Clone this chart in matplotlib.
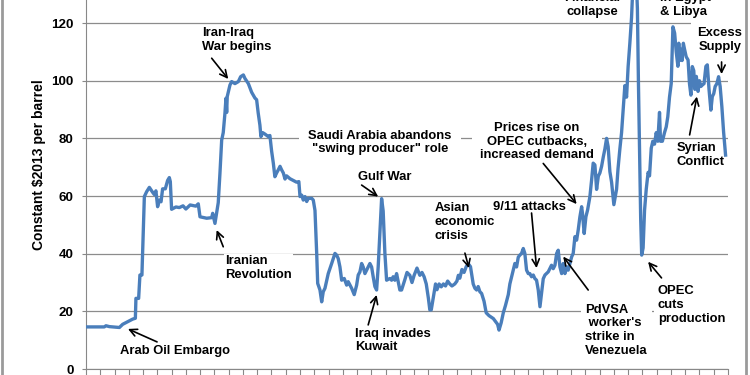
import matplotlib
matplotlib.use('Agg')
import matplotlib.pyplot as plt
from matplotlib.lines import Line2D

# Crude oil price, constant 2013 dollars per barrel
years = [
    1970.00, 1970.50, 1971.28, 1971.40, 1971.64, 1972.34, 1972.57, 1972.92, 1973.27, 1973.46,
    1973.50, 1973.69, 1973.78, 1973.92, 1974.09, 1974.25, 1974.44, 1974.67, 1974.79, 1974.90,
    1975.02, 1975.14, 1975.26, 1975.37, 1975.56, 1975.72, 1975.84, 1975.91, 1976.00, 1976.30,
    1976.54, 1976.80, 1977.00, 1977.30, 1977.70, 1977.87, 1977.99, 1978.46, 1978.81, 1978.88,
    1979.04, 1979.27, 1979.39, 1979.51, 1979.62, 1979.74, 1979.81, 1979.86, 1979.90, 1980.09,
    1980.21, 1980.44, 1980.68, 1980.84, 1981.03, 1981.14, 1981.38, 1981.61, 1981.84, 1981.96,
    1982.07, 1982.19, 1982.26, 1982.38, 1982.54, 1982.78, 1982.89, 1983.01, 1983.13, 1983.24,
    1983.36, 1983.48, 1983.60, 1983.71, 1983.83, 1983.95, 1984.06, 1984.30, 1984.53, 1984.76,
    1984.92, 1985.00, 1985.12, 1985.23, 1985.35, 1985.47, 1985.58, 1985.82, 1985.93, 1986.05,
    1986.17, 1986.24, 1986.40, 1986.52, 1986.63, 1986.75, 1986.98, 1987.22, 1987.45, 1987.57,
    1987.68, 1987.80, 1987.92, 1988.10, 1988.27, 1988.38, 1988.62, 1988.80, 1988.97, 1989.08,
    1989.20, 1989.32, 1989.43, 1989.55, 1989.67, 1989.78, 1989.90, 1990.02, 1990.13, 1990.25,
    1990.37, 1990.48, 1990.60, 1990.72, 1990.83, 1990.95, 1991.07, 1991.30, 1991.42, 1991.53,
    1991.65, 1991.77, 1992.00, 1992.12, 1992.35, 1992.50, 1992.70, 1992.85, 1993.00, 1993.20,
    1993.40, 1993.55, 1993.70, 1993.85, 1994.00, 1994.10, 1994.20, 1994.35, 1994.50, 1994.60,
    1994.75, 1994.90, 1995.05, 1995.20, 1995.35, 1995.50, 1995.65, 1995.85, 1996.00, 1996.10,
    1996.20, 1996.35, 1996.50, 1996.65, 1996.80, 1996.95, 1997.14, 1997.26, 1997.38, 1997.49,
    1997.61, 1997.73, 1997.90, 1998.05, 1998.25, 1998.40, 1998.55, 1998.70, 1998.85, 1998.95,
    1999.10, 1999.25, 1999.40, 1999.60, 1999.71, 1999.83, 1999.94, 2000.06, 2000.18, 2000.30,
    2000.41, 2000.53, 2000.65, 2000.76, 2000.88, 2001.00, 2001.11, 2001.23, 2001.35, 2001.46,
    2001.58, 2001.70, 2001.82, 2001.93, 2002.05, 2002.17, 2002.40, 2002.63, 2002.75, 2002.87,
    2002.99, 2003.10, 2003.22, 2003.34, 2003.45, 2003.57, 2003.69, 2003.80, 2003.92, 2004.04,
    2004.15, 2004.27, 2004.39, 2004.50, 2004.62, 2004.74, 2004.80, 2004.92, 2005.04, 2005.16,
    2005.32, 2005.44, 2005.55, 2005.67, 2005.79, 2005.91, 2006.02, 2006.14, 2006.26, 2006.37,
    2006.49, 2006.60, 2006.72, 2006.84, 2007.00, 2007.19, 2007.29, 2007.42, 2007.54, 2007.65,
    2007.77, 2007.89, 2008.00, 2008.12, 2008.24, 2008.35, 2008.45, 2008.55, 2008.65, 2008.72,
    2008.80, 2008.88, 2008.95, 2009.05, 2009.15, 2009.27, 2009.40, 2009.50, 2009.62, 2009.73,
    2009.85, 2009.97, 2010.08, 2010.20, 2010.27, 2010.40, 2010.55, 2010.67, 2010.78, 2010.90,
    2011.02, 2011.14, 2011.26, 2011.37, 2011.49, 2011.55, 2011.60, 2011.67, 2011.78, 2011.87,
    2011.95, 2012.07, 2012.20, 2012.30, 2012.40, 2012.50, 2012.60, 2012.68, 2012.78, 2012.90,
    2013.00, 2013.10, 2013.20, 2013.32, 2013.45, 2013.55, 2013.67, 2013.80, 2013.90, 2014.00,
    2014.10, 2014.22, 2014.34, 2014.45, 2014.57, 2014.69, 2014.83,
]
price = [
    14.6, 14.6, 14.6, 15.0, 14.7, 14.4, 15.5, 16.4, 17.3, 17.6,
    24.5, 24.5, 32.6, 32.6, 59.8, 61.5, 63.0, 61.3, 60.5, 61.8,
    56.3, 58.6, 58.0, 62.5, 62.5, 65.4, 66.4, 65.0, 55.4, 56.2,
    56.0, 56.6, 55.5, 56.9, 56.5, 57.3, 52.8, 52.3, 52.5, 54.0,
    50.5, 57.7, 68.0, 79.4, 82.0, 88.8, 93.9, 89.0, 94.5, 98.5,
    99.7, 99.0, 99.7, 101.4, 102.0, 100.8, 99.0, 96.0, 94.0, 93.4,
    88.8, 84.6, 80.6, 82.0, 81.5, 80.6, 81.0, 75.6, 71.4, 66.7,
    68.0, 69.1, 70.3, 69.1, 68.0, 65.9, 67.0, 66.0, 65.4, 64.8,
    65.0, 59.8, 60.3, 58.6, 59.8, 58.1, 59.2, 59.2, 58.6, 55.0,
    40.1, 29.7, 27.4, 23.3, 26.8, 28.0, 33.1, 36.6, 40.1, 39.5,
    38.3, 35.4, 30.8, 31.4, 29.1, 30.3, 28.0, 25.8, 29.1, 32.6,
    33.7, 36.6, 35.4, 33.1, 34.3, 35.4, 36.6, 35.4, 32.0, 28.6,
    27.4, 35.4, 47.0, 59.1, 54.8, 40.1, 30.8, 31.4, 30.8, 32.0,
    30.8, 33.1, 27.4, 27.4, 31.0, 33.5, 32.5, 30.0, 32.5, 35.0,
    32.5, 33.5, 32.0, 29.5, 24.5, 20.5, 20.5, 25.0, 29.5, 27.5,
    29.5, 28.5, 29.5, 28.8, 30.5, 29.5, 28.8, 29.5, 30.5, 32.5,
    31.5, 34.5, 33.5, 35.5, 36.5, 35.5, 29.5, 28.0, 27.4, 28.6,
    26.8, 26.2, 23.5, 19.5, 18.5, 18.0, 17.5, 16.5, 15.5, 13.5,
    16.0, 19.5, 22.0, 25.8, 29.5, 31.9, 34.2, 36.6, 35.4, 38.8,
    39.5, 40.1, 41.8, 40.1, 34.3, 33.1, 33.1, 32.0, 32.6, 31.4,
    30.8, 27.4, 21.6, 26.2, 31.3, 32.6, 33.7, 36.0, 34.8, 36.0,
    40.1, 41.2, 35.4, 33.1, 36.6, 33.1, 35.4, 34.3, 36.6, 38.9,
    40.1, 45.9, 44.7, 48.2, 52.8, 56.3, 54.0, 47.0, 52.8, 55.2,
    59.8, 65.6, 71.4, 70.8, 62.3, 66.9, 68.0, 70.3, 73.6, 76.3,
    80.0, 77.1, 68.5, 64.8, 57.0, 62.4, 69.4, 76.3, 82.0, 89.8,
    98.3, 94.3, 104.9, 113.0, 122.0, 135.0, 145.0, 138.0, 125.0, 100.0,
    75.0, 52.0, 39.5, 42.0, 55.0, 62.4, 68.2, 67.0, 76.6, 79.0,
    78.0, 82.0, 79.0, 89.0, 79.0, 79.0, 82.0, 84.0, 87.5, 94.3,
    99.0, 118.7, 116.5, 110.0, 105.0, 113.0, 107.0, 111.0, 107.0, 113.0,
    111.0, 108.3, 107.2, 99.0, 95.0, 104.9, 103.5, 97.0, 101.5, 96.3,
    100.0, 98.0, 98.5, 99.0, 105.0, 105.5, 97.0, 89.8, 94.5, 95.5,
    98.0, 99.0, 101.4, 98.0, 91.0, 82.3, 74.2,
]
y_ticks = [0, 20, 40, 60, 80, 100, 120]
x_ticks = list(range(1970, 2016))

plt.rcParams['font.family'] = 'Liberation Sans'
plt.rcParams['font.weight'] = 'bold'

fig = plt.figure(figsize=(7.5, 3.75), dpi=100)
ax = fig.add_axes([86 / 750, 6 / 375, 642 / 750, 369 / 375])

ax.plot(years, price, color='#4A7EBB', lw=2.4, solid_joinstyle='round', zorder=4)

ax.set_xlim(1970, 2015)
ax.set_ylim(0, 128)
ax.set_yticks(y_ticks)
ax.set_xticks(x_ticks)
ax.tick_params(axis='x', length=4, direction='out', labelbottom=False, color='#888888')
ax.tick_params(axis='y', length=3, labelsize=9.6, pad=6, color='#888888')
ax.grid(axis='y', color='#8c8c8c', lw=0.9)
ax.set_axisbelow(True)
for side in ['top', 'right']:
    ax.spines[side].set_visible(False)
for side in ['left', 'bottom']:
    ax.spines[side].set_color('#888888')

ax.set_ylabel('Constant $2013 per barrel', fontsize=10, fontweight='bold')
ax.yaxis.set_label_coords(-0.063, 0.553)


# Event labels with white boxes (they hide the gridlines behind them)
def note(x, y, s, ha='left', pad=1):
    ax.text(x, y, s, ha=ha, va='center', fontsize=9.4, fontweight='bold', zorder=3,
            bbox=dict(fc='white', ec='none', pad=pad))


def arrow(tail, head):
    ax.annotate('', xy=head, xytext=tail, zorder=5,
                arrowprops=dict(arrowstyle='->', color='black', lw=1.2,
                                shrinkA=0, shrinkB=0, mutation_scale=13))


note(1976.24, 6.2, 'Arab Oil Embargo', ha='center')
arrow((1974.98, 9.4), (1972.94, 13.9))

note(1978.11, 114.1, 'Iran-Iraq\nWar begins')
arrow((1978.81, 107.8), (1979.97, 100.6))

note(1979.74, 35.0, 'Iranian\nRevolution')
arrow((1979.62, 42.4), (1979.16, 48.2))

note(1990.6, 78.6, 'Saudi Arabia abandons\n"swing producer" role', ha='center', pad=7)

note(1990.95, 66.6, 'Gulf War', ha='center')
arrow((1989.32, 63.8), (1990.48, 59.8))

note(1988.85, 9.9, 'Iraq invades\nKuwait')
arrow((1989.78, 15.3), (1990.37, 25.7))

note(1994.46, 51.0, 'Asian\neconomic\ncrisis')
arrow((1996.56, 40.2), (1996.84, 35.0))

note(2001.6, 78.9, 'Prices rise on\nOPEC cutbacks,\nincreased demand', ha='center', pad=6)
arrow((2002.05, 71.3), (2004.39, 57.2))

note(2001.11, 56.2, '9/11 attacks', ha='center')
arrow((2001.23, 54.1), (2001.58, 35.0))

note(2004.97, 13.4, 'PdVSA\n worker\'s\nstrike in\nVenezuela', pad=3)
arrow((2005.2, 27.4), (2003.45, 39.0))

note(2010.08, 22.2, 'OPEC\ncuts\nproduction', pad=3)
arrow((2010.34, 31.6), (2009.4, 37.2))

note(2011.41, 74.1, 'Syrian\nConflict')
arrow((2012.31, 81.2), (2012.82, 94.5))

note(2014.43, 114.1, 'Excess\nSupply', ha='center', pad=5)
arrow((2014.55, 106.5), (2014.55, 102.3))

# these two sit at the top edge, cut off just as in the original picture
note(2005.46, 126.4, 'Financial\ncollapse', ha='center')
note(2010.22, 126.4, 'in Egypt\n& Libya')

# grey frame edges of the original picture
fig.add_artist(Line2D([1.5 / 750, 1.5 / 750], [0, 1], transform=fig.transFigure,
                      color='#9a9a9a', lw=2))
fig.add_artist(Line2D([745.5 / 750, 745.5 / 750], [0, 1], transform=fig.transFigure,
                      color='#9a9a9a', lw=2))

fig.savefig('out.png', dpi=100)
